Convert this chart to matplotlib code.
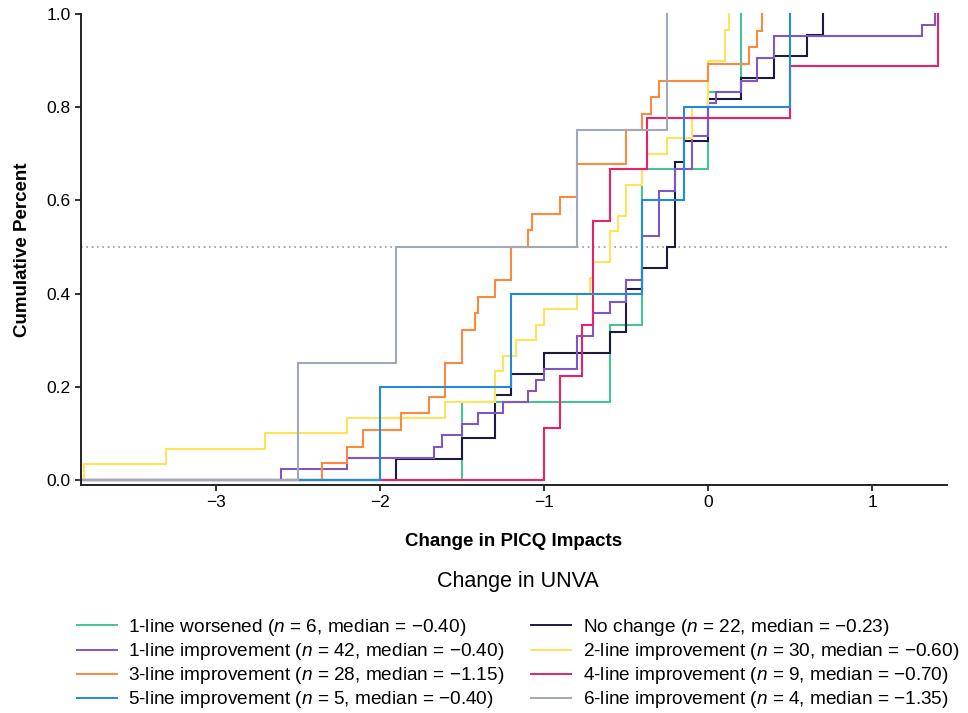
import numpy as np
import matplotlib
matplotlib.use("Agg")
import matplotlib.pyplot as plt
from matplotlib.lines import Line2D
from matplotlib.ticker import FormatStrFormatter

plt.rcParams['font.family'] = ['Liberation Sans', 'DejaVu Sans']
plt.rcParams['mathtext.fontset'] = 'custom'
plt.rcParams['mathtext.it'] = 'Liberation Sans:italic'
plt.rcParams['mathtext.rm'] = 'Liberation Sans'

# ---- data (sorted values read from the ECDF steps) ----
worsened_1 = [-1.5, -0.6, -0.4, -0.4, 0.0, 0.2]
no_change = [-1.9, -1.5, -1.3, -1.3, -1.2, -1.0, -0.6, -0.5, -0.5, -0.4, -0.25,
             -0.2, -0.2, -0.2, -0.2, -0.15, 0.0, 0.0, 0.2, 0.4, 0.6, 0.7]
improve_1 = [-2.6, -2.2, -1.67, -1.62, -1.5, -1.4, -1.25, -1.1, -1.05, -1.0,
             -0.8, -0.8, -0.8, -0.7, -0.7, -0.6, -0.5, -0.5, -0.4, -0.4, -0.4, -0.4,
             -0.3, -0.3, -0.3, -0.3, -0.2, -0.2, -0.1, -0.1, -0.1, 0.0, 0.0, 0.0,
             0.05, 0.2, 0.3, 0.3, 0.4, 0.4, 1.3, 1.38]
improve_2 = [-3.8, -3.3, -2.7, -2.2, -1.6, -1.3, -1.3, -1.25, -1.17, -1.05, -1.0,
             -0.8, -0.72, -0.7, -0.6, -0.6, -0.55, -0.5, -0.5, -0.4, -0.37, -0.25,
             -0.1, -0.1, 0.0, 0.0, 0.0, 0.1, 0.1, 0.13]
improve_3 = [-2.35, -2.2, -2.1, -1.87, -1.7, -1.6, -1.6, -1.5, -1.5, -1.42, -1.4,
             -1.3, -1.2, -1.2, -1.1, -1.07, -0.9, -0.8, -0.8, -0.5, -0.5, -0.4,
             -0.35, -0.3, 0.0, 0.25, 0.3, 0.33]
improve_4 = [-1.0, -0.9, -0.77, -0.7, -0.7, -0.6, -0.37, 0.5, 1.4]
improve_5 = [-2.0, -1.2, -0.4, -0.15, 0.5]
improve_6 = [-2.5, -1.9, -0.8, -0.25]

group_names = ["1-line worsened", "No change", "1-line improvement", "2-line improvement",
               "3-line improvement", "4-line improvement", "5-line improvement",
               "6-line improvement"]
group_values = [worsened_1, no_change, improve_1, improve_2, improve_3, improve_4,
                improve_5, improve_6]
group_medians = ["\u22120.40", "\u22120.23", "\u22120.40", "\u22120.60", "\u22121.15",
                 "\u22120.70", "\u22120.40", "\u22121.35"]
group_colors = ["#46c496", "#1d1b3d", "#7f57c2", "#ffe35a", "#fb8a3c", "#e8216a",
                "#2389db", "#a1a9b9"]

x_ticks = [-3, -2, -1, 0, 1]
y_ticks = [0.0, 0.2, 0.4, 0.6, 0.8, 1.0]
XLIM = (-3.82, 1.455)
YLIM = (-0.011, 1.0)

fig = plt.figure(figsize=(9.68, 7.13), dpi=100)
ax = fig.add_axes([0.0837, 0.3198, 0.8946, 0.6606])

ax.axhline(0.5, color="#9a9a9a", lw=1.2, linestyle=(0, (1, 2.2)), zorder=1)

handles = []
for name, vals, med, col in zip(group_names, group_values, group_medians, group_colors):
    v = np.sort(np.asarray(vals, dtype=float))
    n = len(v)
    xs = np.concatenate([[XLIM[0]], v])
    ys = np.concatenate([[0.0], np.arange(1, n + 1) / n])
    ax.plot(xs, ys, drawstyle="steps-post", color=col, lw=1.5, zorder=2,
            solid_joinstyle="miter", clip_on=False)
    label = f"{name} ($n$ = {n}, median = {med})"
    handles.append(Line2D([0], [0], color=col, lw=1.4, label=label))

ax.set_xlim(*XLIM)
ax.set_ylim(*YLIM)
ax.set_xticks(x_ticks)
ax.set_yticks(y_ticks)
ax.yaxis.set_major_formatter(FormatStrFormatter('%.1f'))
for s in ["top", "right"]:
    ax.spines[s].set_visible(False)
for s in ["left", "bottom"]:
    ax.spines[s].set_linewidth(1.4)
    ax.spines[s].set_color("#222222")
ax.tick_params(direction="out", length=4, width=1.3, labelsize=12.5, colors="#222222",
               labelcolor="black")
ax.set_xlabel("Change in PICQ Impacts", fontsize=13.5, fontweight="bold", labelpad=16)
ax.set_ylabel("Cumulative Percent", fontsize=13.5, fontweight="bold", labelpad=11)

# legend filled row-wise (2 columns)
order = [0, 2, 4, 6, 1, 3, 5, 7]
leg = fig.legend([handles[i] for i in order], [handles[i].get_label() for i in order],
                 loc="upper center", bbox_to_anchor=(0.535, 0.223), ncol=2,
                 frameon=False, fontsize=13.7, title="Change in UNVA",
                 title_fontsize=15.5, handlelength=2.1, handletextpad=0.6,
                 columnspacing=1.4, labelspacing=0.16)
leg._legend_box.sep = 18

fig.savefig("out.png", dpi=100)
